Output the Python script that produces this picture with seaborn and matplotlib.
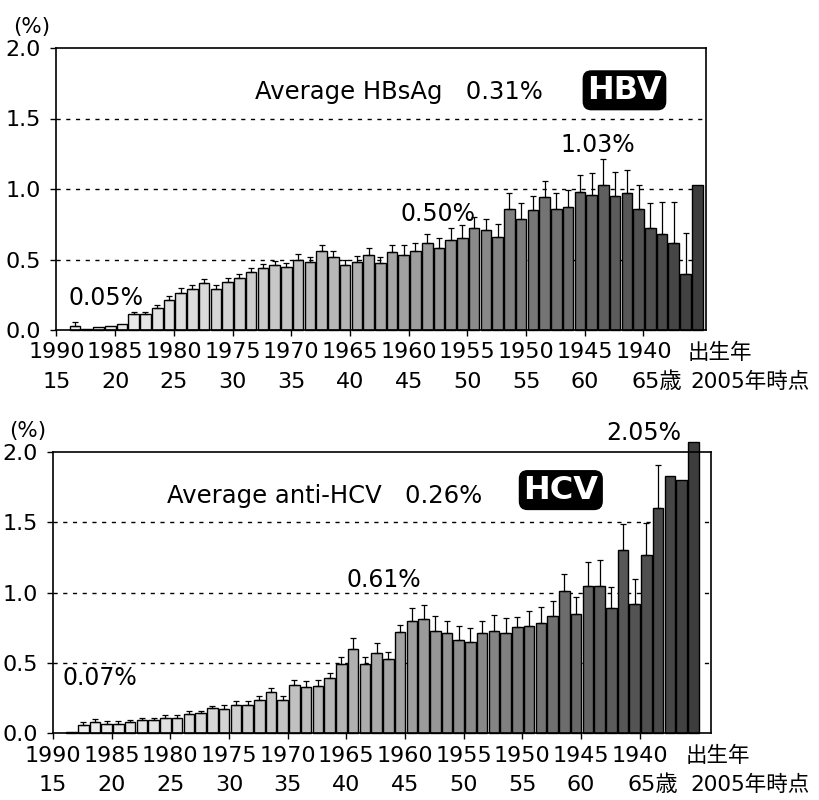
import numpy as np
import pandas as pd
import matplotlib
matplotlib.use("Agg")
import matplotlib.pyplot as plt
import matplotlib.transforms as mtransforms
import seaborn as sns

# ---------------- data ----------------
birth_years = ["1990", "1985", "1980", "1975", "1970", "1965",
               "1960", "1955", "1950", "1945", "1940"]
ages_2005 = ["15", "20", "25", "30", "35", "40", "45", "50", "55", "60", "65歳"]

hbv_values = [0.03, 0.01, 0.02, 0.03, 0.04, 0.11, 0.11, 0.155, 0.21, 0.265,
              0.29, 0.33, 0.29, 0.34, 0.37, 0.41, 0.44, 0.46, 0.445, 0.50,
              0.48, 0.56, 0.52, 0.46, 0.485, 0.53, 0.475, 0.55, 0.53, 0.56,
              0.62, 0.58, 0.64, 0.655, 0.72, 0.71, 0.66, 0.86, 0.79, 0.85,
              0.94, 0.86, 0.87, 0.98, 0.96, 1.03, 0.95, 0.975, 0.86, 0.72,
              0.68, 0.62, 0.40, 1.03]
hbv_err = [0.03, 0, 0, 0, 0, 0.02, 0.02, 0.02, 0.03, 0.03,
           0.03, 0.03, 0.03, 0.03, 0.03, 0.03, 0.03, 0.03, 0.03, 0.04,
           0.04, 0.04, 0.04, 0.04, 0.04, 0.05, 0.04, 0.05, 0.07, 0.06,
           0.06, 0.07, 0.08, 0.09, 0.08, 0.08, 0.09, 0.11, 0.11, 0.10,
           0.12, 0.11, 0.12, 0.12, 0.15, 0.18, 0.17, 0.16, 0.17, 0.18,
           0.23, 0.29, 0.29, 0]

hcv_values = [0.01, 0.06, 0.08, 0.065, 0.065, 0.075, 0.09, 0.09, 0.105, 0.105,
              0.135, 0.14, 0.175, 0.17, 0.20, 0.20, 0.235, 0.29, 0.235, 0.34,
              0.33, 0.335, 0.39, 0.49, 0.60, 0.49, 0.57, 0.53, 0.72, 0.80,
              0.81, 0.73, 0.71, 0.66, 0.65, 0.71, 0.73, 0.71, 0.755, 0.76,
              0.78, 0.83, 1.01, 0.85, 1.05, 1.05, 0.89, 1.30, 0.92, 1.265,
              1.60, 1.83, 1.80, 2.07]
hcv_err = [0, 0.02, 0.02, 0.02, 0.02, 0.02, 0.02, 0.02, 0.02, 0.02,
           0.02, 0.02, 0.02, 0.03, 0.03, 0.03, 0.03, 0.03, 0.03, 0.04,
           0.04, 0.04, 0.04, 0.05, 0.08, 0.05, 0.07, 0.05, 0.05, 0.09,
           0.10, 0.10, 0.085, 0.10, 0.10, 0.085, 0.11, 0.11, 0.07, 0.11,
           0.12, 0.11, 0.12, 0.12, 0.17, 0.18, 0.15, 0.19, 0.18, 0.23,
           0.31, 0, 0, 0]

hbv_title = "Average HBsAg   0.31%"
hcv_title = "Average anti-HCV   0.26%"
hbv_notes = [("0.05%", 2.6, 0.23), ("0.50%", 30.9, 0.82), ("1.03%", 44.5, 1.31)]
hcv_notes = [("0.07%", 2.4, 0.39), ("0.61%", 26.6, 1.09), ("2.05%", 48.8, 2.135)]

# ---------------- style ----------------
sns.set_style("ticks")
plt.rcParams['font.family'] = ['DejaVu Sans', 'Noto Sans CJK JP']
plt.rcParams['axes.linewidth'] = 1.2
plt.rcParams['text.color'] = 'black'
plt.rcParams['xtick.color'] = 'black'
plt.rcParams['ytick.color'] = 'black'

fig = plt.figure(figsize=(8.19, 8.0), dpi=100)
ax1 = fig.add_axes([0.0684, 0.5875, 0.7937, 0.3525])
ax2 = fig.add_axes([0.0647, 0.08375, 0.803, 0.351])

tick_pos = -1.58 + 5 * np.arange(len(birth_years))


def gray_colors(n):
    cols = []
    for i in range(n):
        g = 0.94 - 0.70 * (i / (n - 1)) ** 1.3
        cols.append((g, g, g))
    return cols


def draw_panel(ax, values, errs, title, label, notes, xlim, title_x, title_y,
               box_x, box_y, birth_x, year_note_x):
    n = len(values)
    pos = np.arange(n)
    df = pd.DataFrame({"pos": pos, "val": values})
    sns.barplot(data=df, x="pos", y="val", hue="pos", palette=gray_colors(n),
                native_scale=True, width=0.9, edgecolor="black", linewidth=1.0,
                saturation=1, errorbar=None, legend=False, ax=ax, zorder=2)
    err = np.array(errs, dtype=float)
    m = err > 0
    ax.errorbar(pos[m], np.array(values)[m], yerr=[np.zeros(m.sum()), err[m]],
                fmt="none", ecolor="black", elinewidth=0.9, capsize=2.2,
                capthick=0.9, zorder=3)
    for p in ax.patches:
        p.set_clip_on(False)

    ax.set_xlim(*xlim)
    ax.set_ylim(0, 2.0)
    ax.set_yticks([0, 0.5, 1.0, 1.5, 2.0])
    ax.set_yticklabels(["0.0", "0.5", "1.0", "1.5", "2.0"])
    ax.set_xticks(tick_pos)
    ax.set_xticklabels(birth_years)
    ax.set_xlabel("")
    ax.set_ylabel("")
    for yv in [0.5, 1.0, 1.5]:
        ax.axhline(yv, color="black", lw=1.0, ls=(0, (3, 4)), zorder=1)
    for s in ax.spines.values():
        s.set_visible(True)
        s.set_color("black")
        s.set_linewidth(1.2)
        s.set_zorder(4)
    ax.tick_params(axis="both", direction="out", length=4, width=1,
                   labelsize=16, colors="black", pad=2)
    ax.tick_params(axis="x", pad=5)
    ax.tick_params(axis="y", pad=7)

    trans = mtransforms.blended_transform_factory(ax.transData, ax.transAxes)
    for tp, a in zip(tick_pos, ages_2005):
        xx = tp + (1.1 if a.endswith("歳") else 0)
        ax.text(xx, -0.185, a, transform=trans, ha="center", va="center",
                fontsize=16)
    ax.text(birth_x, -0.08, "出生年", transform=trans, ha="left",
            va="center", fontsize=15.5)
    ax.text(year_note_x, -0.185, "2005年時点", transform=trans, ha="left",
            va="center", fontsize=15.5)
    ax.text(-0.038, 1.075, "(%)", transform=ax.transAxes, ha="center",
            va="center", fontsize=15.5)

    ax.text(title_x, title_y, title, ha="left", va="center", fontsize=17.5)
    ax.text(box_x, box_y, label, ha="center", va="center", fontsize=23,
            fontweight="bold", color="white",
            bbox=dict(boxstyle="round,pad=0.12,rounding_size=0.25",
                      fc="black", ec="black"))
    for t, x, y in notes:
        ax.text(x, y, t, ha="center", va="center", fontsize=17, clip_on=False)


draw_panel(ax1, hbv_values, hbv_err, hbv_title, "HBV", hbv_notes,
           (-1.62, 53.75), 15.3, 1.69, 46.8, 1.70, 52.2, 52.4)
draw_panel(ax2, hcv_values, hcv_err, hcv_title, "HCV", hcv_notes,
           (-1.58, 54.47), 8.1, 1.69, 41.7, 1.73, 52.3, 52.7)

fig.savefig("out.png", dpi=100)
